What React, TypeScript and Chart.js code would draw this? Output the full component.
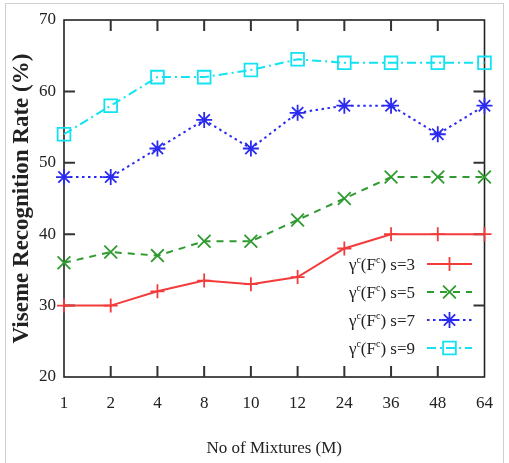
import React, { useEffect, useRef } from "react";
import { Chart, registerables } from "chart.js";
import { drawPoint } from "chart.js/helpers";
Chart.register(...registerables);

const categories = ["1", "2", "4", "8", "10", "12", "24", "36", "48", "64"];
const s3 = [30, 30, 32, 33.5, 33, 34, 38, 40, 40, 40];
const s5 = [36, 37.5, 37, 39, 39, 42, 45, 48, 48, 48];
const s7 = [48, 48, 52, 56, 52, 57, 58, 58, 54, 58];
const s9 = [54, 58, 62, 62, 63, 64.5, 64, 64, 64, 64];
const seriesSuffix = ["s=3", "s=5", "s=7", "s=9"];
const yMin = 20;
const yMax = 70;
const yStep = 10;
const xTitle = "No of Mixtures (M)";
const yTitle = "Viseme Recognition Rate (%)";

const SERIF = "'Liberation Serif', 'Times New Roman', serif";

const frameTicks = {
  id: "frameTicks",
  beforeDatasetsDraw(chart: any) {
    const { ctx, chartArea: a, scales } = chart;
    ctx.save();
    ctx.strokeStyle = "#222";
    ctx.lineWidth = 1.6;
    ctx.strokeRect(a.left, a.top, a.right - a.left, a.bottom - a.top);
    const len = 11;
    ctx.lineWidth = 2;
    ctx.strokeStyle = "#333";
    const xs = scales.x;
    xs.ticks.forEach((_t: any, i: number) => {
      const px = xs.getPixelForTick(i);
      if (i === 0 || i === xs.ticks.length - 1) return;
      ctx.beginPath();
      ctx.moveTo(px, a.bottom);
      ctx.lineTo(px, a.bottom - len);
      ctx.moveTo(px, a.top);
      ctx.lineTo(px, a.top + len);
      ctx.stroke();
    });
    const ys = scales.y;
    ys.ticks.forEach((_t: any, i: number) => {
      const py = ys.getPixelForTick(i);
      if (i === 0 || i === ys.ticks.length - 1) return;
      ctx.beginPath();
      ctx.moveTo(a.left, py);
      ctx.lineTo(a.left + len, py);
      ctx.moveTo(a.right, py);
      ctx.lineTo(a.right - len, py);
      ctx.stroke();
    });
    ctx.restore();
  },
};

const customLegend = {
  id: "customLegend",
  afterDraw(chart: any) {
    const { ctx } = chart;
    const textRight = 415;
    const lineStart = 427;
    const lineEnd = 472;
    const rowY = [264, 292, 320, 348];
    ctx.save();
    chart.data.datasets.forEach((ds: any, i: number) => {
      const y = rowY[i];
      const big = "17px " + SERIF;
      const small = "10px " + SERIF;
      const parts: [string, string, number][] = [
        ["\u03b3", big, 0],
        ["c", small, -7],
        ["(F", big, 0],
        ["c", small, -7],
        [") " + ds.suffix, big, 0],
      ];
      let total = 0;
      parts.forEach(([t, f]) => {
        ctx.font = f;
        total += ctx.measureText(t).width;
      });
      let x = textRight - total;
      ctx.fillStyle = "#222";
      ctx.textBaseline = "alphabetic";
      ctx.textAlign = "left";
      parts.forEach(([t, f, dy]) => {
        ctx.font = f;
        ctx.fillText(t, x, y + 6 + dy);
        x += ctx.measureText(t).width;
      });
      ctx.strokeStyle = ds.borderColor;
      ctx.lineWidth = ds.borderWidth;
      ctx.setLineDash(ds.borderDash || []);
      ctx.beginPath();
      ctx.moveTo(lineStart, y);
      ctx.lineTo(lineEnd, y);
      ctx.stroke();
      ctx.setLineDash([]);
      ctx.fillStyle = "rgba(0,0,0,0)";
      ctx.lineWidth = ds.pointBorderWidth;
      drawPoint(ctx, { pointStyle: ds.pointStyle, rotation: 0, borderWidth: ds.pointBorderWidth, radius: ds.pointRadius }, (lineStart + lineEnd) / 2, y);
    });
    ctx.restore();
  },
};

export default function App() {
  const ref = useRef<HTMLCanvasElement>(null);
  useEffect(() => {
    if (!ref.current) return;
    const mk = (data: number[], color: string, dash: number[], style: string, radius: number, idx: number) => ({
      label: "s" + idx,
      suffix: seriesSuffix[idx],
      data,
      borderColor: color,
      backgroundColor: "rgba(0,0,0,0)",
      borderWidth: 2,
      borderDash: dash,
      pointStyle: style,
      pointRadius: radius,
      pointBorderWidth: 1.8,
      pointBorderColor: color,
      pointBackgroundColor: "rgba(0,0,0,0)",
      tension: 0,
      clip: false,
    });
    const chart = new Chart(ref.current, {
      type: "line",
      data: {
        labels: categories,
        datasets: [
          mk(s3, "#f33b3b", [], "cross", 7, 0),
          mk(s5, "#2f9a2f", [7, 6], "crossRot", 9, 1),
          mk(s7, "#2a2af0", [2.5, 3.5], "star", 8, 2),
          mk(s9, "#12e2f2", [9, 4, 2, 4], "rect", 9, 3),
        ] as any,
      },
      options: {
        animation: false,
        responsive: false,
        devicePixelRatio: 1,
        layout: { padding: { left: 0, top: 20, right: 20, bottom: 0 } },
        plugins: { legend: { display: false }, tooltip: { enabled: false } },
        scales: {
          x: {
            offset: false,
            grid: { display: false, drawTicks: false },
            border: { display: false },
            ticks: { color: "#222", font: { family: SERIF, size: 17 }, padding: 16, maxRotation: 0, autoSkip: false },
            title: { display: true, text: xTitle, color: "#222", font: { family: SERIF, size: 17 }, padding: { top: 0, bottom: 4 } },
            afterFit: (s: any) => { s.height = 86; },
          },
          y: {
            min: yMin,
            max: yMax,
            grid: { display: false, drawTicks: false },
            border: { display: false },
            ticks: { stepSize: yStep, color: "#222", font: { family: SERIF, size: 17 }, padding: 8 },
            title: { display: true, text: yTitle, color: "#222", font: { family: SERIF, size: 23, weight: "bold" }, padding: { top: 8, bottom: 0 } },
            afterFit: (s: any) => { s.width = 64; },
          },
        },
      } as any,
      plugins: [frameTicks, customLegend],
    });
    return () => chart.destroy();
  }, []);
  return (
    <div style={{ position: "fixed", left: 0, top: 0, width: 509, height: 463, background: "#fff", overflow: "hidden" }}>
      <canvas ref={ref} width={509} height={463} style={{ position: "absolute", left: 0, top: 0 }} />
      <div style={{ position: "absolute", left: 5, top: 3, width: 497, height: 480, border: "1.5px solid #cfcfcf", pointerEvents: "none" }} />
    </div>
  );
}
